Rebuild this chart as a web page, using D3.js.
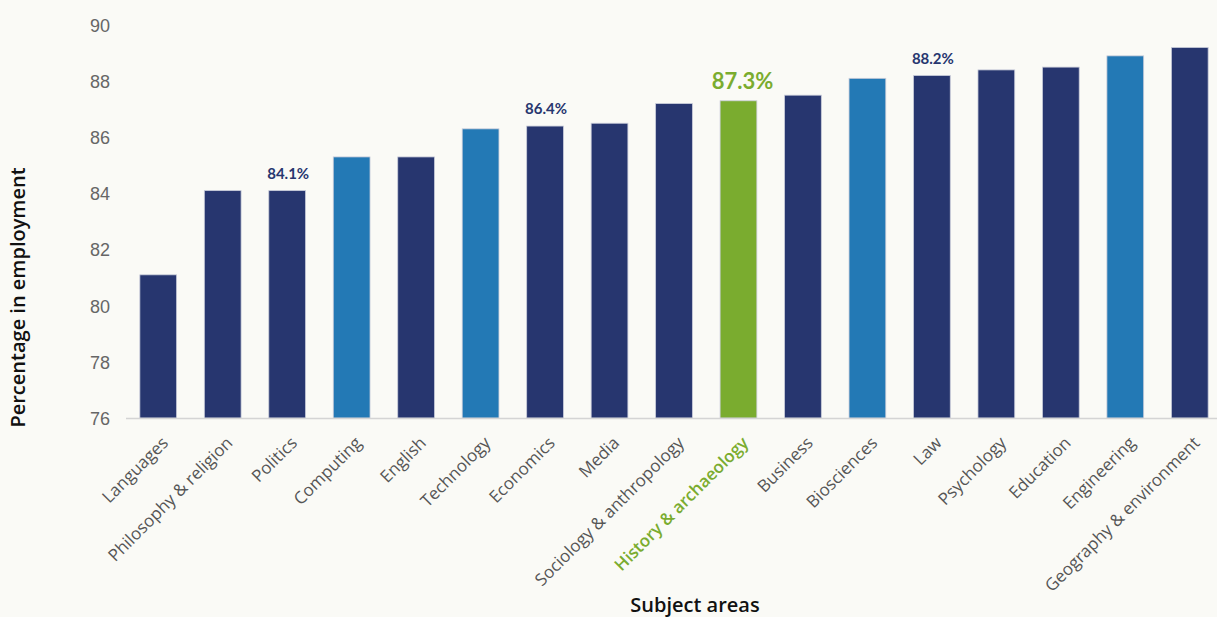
<!DOCTYPE html>
<html>
<head>
<meta charset="utf-8">
<script src="https://cdn.jsdelivr.net/npm/d3@7"></script>
<style>
  html, body { margin: 0; padding: 0; background: #fafaf6; }
  svg { display: block; font-family: Lato, "Noto Sans", sans-serif; }
</style>
</head>
<body>
<div id="chart"></div>
<script>
const subjects = ["Languages", "Philosophy & religion", "Politics", "Computing", "English",
  "Technology", "Economics", "Media", "Sociology & anthropology", "History & archaeology",
  "Business", "Biosciences", "Law", "Psychology", "Education", "Engineering", "Geography & environment"];
const employment = [81.1, 84.1, 84.1, 85.3, 85.3, 86.3, 86.4, 86.5, 87.2, 87.3, 87.5, 88.1, 88.2, 88.4, 88.5, 88.9, 89.2];
const lightBlue = ["Computing", "Technology", "Biosciences", "Engineering"];
const highlight = "History & archaeology";
const labelled = ["Politics", "Economics", "History & archaeology", "Law"];
const yTicks = [76, 78, 80, 82, 84, 86, 88, 90];

const width = 1217, height = 617;
const navy = "#27366f", blue = "#2379b5", green = "#7aac2f";

const svg = d3.select("#chart").append("svg")
  .attr("width", width)
  .attr("height", height);

svg.append("rect").attr("width", width).attr("height", height).attr("fill", "#fafaf6");

const x = d3.scaleBand()
  .domain(subjects)
  .range([126, 1222])
  .paddingInner(0.43)
  .paddingOuter(0.215);

const y = d3.scaleLinear()
  .domain([76, 90])
  .range([418, 25]);

const colorOf = d => d === highlight ? green : lightBlue.includes(d) ? blue : navy;

// y axis labels (no line)
const yAxis = svg.append("g")
  .attr("transform", "translate(110,0)")
  .call(d3.axisLeft(y).tickValues(yTicks).tickSize(0).tickPadding(0));
yAxis.select(".domain").remove();
yAxis.selectAll("text")
  .attr("fill", "#666")
  .style("font-size", "18px")
  .attr("dy", "0.35em");

// bars
svg.selectAll("rect.bar")
  .data(subjects)
  .join("rect")
  .attr("class", "bar")
  .attr("x", d => x(d))
  .attr("width", x.bandwidth())
  .attr("y", (d, i) => y(employment[i]))
  .attr("height", (d, i) => y(76) - y(employment[i]))
  .attr("fill", colorOf)
  .attr("stroke", "#c9ccda")
  .attr("stroke-width", 0.8);

// baseline
const xAxis = svg.append("g")
  .attr("transform", `translate(0,${y(76)})`)
  .call(d3.axisBottom(x).tickSize(0).tickPadding(0));
xAxis.select(".domain")
  .attr("d", `M126,0.5H${width}`)
  .attr("stroke", "#d4d4d4")
  .attr("stroke-width", 1.5);
xAxis.selectAll(".tick text")
  .attr("text-anchor", "end")
  .attr("fill", d => d === highlight ? green : "#555")
  .style("font-family", "'Open Sans', 'Noto Sans', sans-serif")
  .style("font-size", "17px")
  .style("font-weight", d => d === highlight ? 600 : 400)
  .attr("transform", "translate(11,26) rotate(-45)")
  .attr("dy", 0)
  .attr("y", 0);

// value labels
svg.selectAll("text.val")
  .data(subjects.filter(d => labelled.includes(d)))
  .join("text")
  .attr("class", "val")
  .attr("x", d => x(d) + x.bandwidth() / 2 + (d === highlight ? 4 : 1))
  .attr("y", d => y(employment[subjects.indexOf(d)]) - 12)
  .attr("text-anchor", "middle")
  .attr("fill", d => d === highlight ? green : navy)
  .style("font-weight", 700)
  .style("font-size", d => d === highlight ? "22px" : "15px")
  .text(d => employment[subjects.indexOf(d)].toFixed(1) + "%");

// axis titles
svg.append("text")
  .attr("transform", `translate(25,${(25 + 418) / 2 + 76}) rotate(-90)`)
  .attr("text-anchor", "middle")
  .style("font-family", "'Open Sans', 'Noto Sans', sans-serif")
  .style("font-size", "20px")
  .style("font-weight", 600)
  .attr("fill", "#111")
  .text("Percentage in employment");

svg.append("text")
  .attr("x", 695)
  .attr("y", 612)
  .attr("text-anchor", "middle")
  .style("font-family", "'Open Sans', 'Noto Sans', sans-serif")
  .style("font-size", "20px")
  .style("font-weight", 600)
  .attr("fill", "#111")
  .text("Subject areas");
</script>
</body>
</html>
